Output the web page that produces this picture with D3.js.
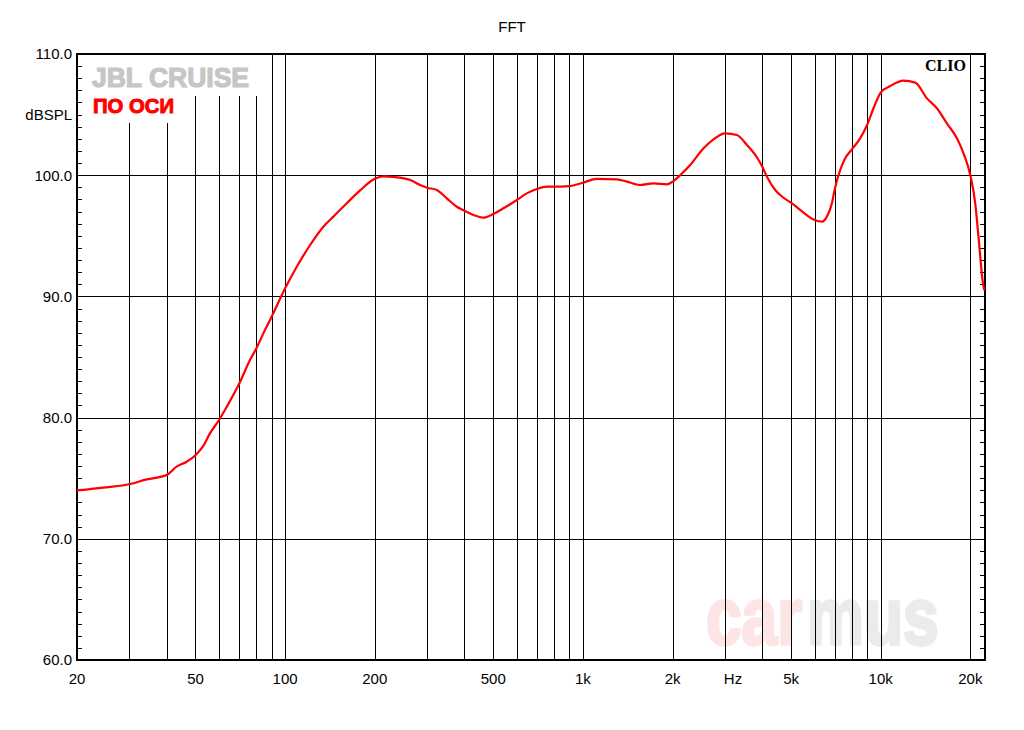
<!DOCTYPE html>
<html>
<head>
<meta charset="utf-8">
<script src="https://cdn.jsdelivr.net/npm/d3@7"></script>
<style>
  html, body { margin: 0; padding: 0; background: #fff; }
  svg { display: block; }
  text { font-family: "Liberation Sans", Arial, sans-serif; }
</style>
</head>
<body>
<svg id="chart" width="1024" height="730"></svg>
<script>
// ---- data ----
const freqs = [20, 25, 30, 34.3, 40, 43.2, 46.7, 50, 53.1, 55.9, 60, 63.7, 70, 76.2, 80, 84.5, 90,
  100, 109.4, 121.3, 134.4, 145.2, 161, 178.5, 200, 214, 231, 263, 284, 300, 323, 349, 377, 400,
  429, 461, 500, 541, 600, 648, 700, 756, 800, 900, 1000, 1114, 1300, 1405, 1557, 1725, 1914,
  2000, 2121, 2292, 2541, 2745, 3000, 3288, 3554, 3838, 4000, 4150, 4424, 4716, 5000, 5366,
  6000, 6346, 6596, 6857, 7000, 7311, 7598, 8000, 8532, 9000, 9458, 10000, 10766, 11930, 13062,
  14298, 15444, 16684, 18030, 18972, 20000, 20770, 21300, 22052, 22300];
const levels = [74.0, 74.25, 74.5, 74.9, 75.26, 75.95, 76.36, 76.9, 77.66, 78.7, 79.8, 80.9, 82.77, 84.75, 85.7, 86.95, 88.3,
  90.67, 92.45, 94.24, 95.75, 96.58, 97.68, 98.75, 99.7, 99.9, 99.85, 99.6, 99.19, 98.97, 98.78, 98.09, 97.4, 97.07,
  96.72, 96.5, 96.8, 97.27, 97.95, 98.5, 98.86, 99.05, 99.05, 99.1, 99.38, 99.69, 99.66, 99.47, 99.19, 99.33, 99.25,
  99.47, 100.0, 100.84, 102.22, 102.96, 103.45, 103.32, 102.5, 101.48, 100.71, 99.88, 98.78, 98.14, 97.73, 97.13,
  96.3, 96.17, 96.58, 97.68, 98.78, 100.43, 101.39, 102.13, 103.04, 104.14, 105.52, 106.81, 107.36, 107.8, 107.64,
  106.34, 105.52, 104.28, 103.04, 101.8, 100.0, 97.68, 94.93, 91.08, 90.5];

const xDomain = [20, 22400];
const yDomain = [60, 110];
const xGridValues = [30, 40, 50, 60, 70, 80, 90, 100, 200, 300, 400, 500, 600, 700, 800, 900,
  1000, 2000, 3000, 4000, 5000, 6000, 7000, 8000, 9000, 10000, 20000];
const xTickValues = [20, 50, 100, 200, 500, 1000, 2000, 3000, 5000, 10000, 20000];
const xTickLabels = ["20", "50", "100", "200", "500", "1k", "2k", "Hz", "5k", "10k", "20k"];
const yTickValues = [60, 70, 80, 90, 100, 110];
const yTickLabels = ["60.0", "70.0", "80.0", "90.0", "100.0", "110.0"];
const yMinorValues = d3.range(61, 110).filter(v => v % 10 !== 0);
const yUnitLabel = "dBSPL";
const yUnitAt = 105;
const titleText = "FFT";

// ---- layout ----
const L = 77, R = 985, T = 54, B = 660;
const svg = d3.select("#chart");
const x = d3.scaleLog().domain(xDomain).range([L, R]);
const y = d3.scaleLinear().domain(yDomain).range([B, T]);

svg.append("rect").attr("width", 1024).attr("height", 730).attr("fill", "#fff");

// watermark
svg.append("text").attr("transform", "translate(706,644) scale(0.8,1)")
  .attr("font-size", 80).attr("font-weight", "bold")
  .attr("fill", "#fde5e5").attr("stroke", "#fde5e5").attr("stroke-width", 3.5).attr("stroke-linejoin", "round")
  .text("car");
svg.append("text").attr("transform", "translate(807,644) scale(0.8,1)")
  .attr("font-size", 80).attr("font-weight", "bold")
  .attr("fill", "#ebebeb").attr("stroke", "#ebebeb").attr("stroke-width", 3.5).attr("stroke-linejoin", "round")
  .text("mus");

// grid
const grid = svg.append("g").attr("stroke", "#000").attr("stroke-width", 1).attr("shape-rendering", "crispEdges");
grid.selectAll("line.v").data(xGridValues).join("line")
  .attr("x1", d => Math.round(x(d)) + 0.5).attr("x2", d => Math.round(x(d)) + 0.5)
  .attr("y1", T).attr("y2", B);
grid.selectAll("line.h").data(yTickValues.filter(v => v > 60 && v < 110)).join("line")
  .attr("x1", L).attr("x2", R)
  .attr("y1", d => Math.round(y(d)) + 0.5).attr("y2", d => Math.round(y(d)) + 0.5);

// white label boxes covering grid
svg.append("rect").attr("x", L).attr("y", T).attr("width", 185).attr("height", 42).attr("fill", "#fff");
svg.append("rect").attr("x", L).attr("y", T + 42).attr("width", 103).attr("height", 27).attr("fill", "#fff");

svg.append("text").attr("x", 92).attr("y", 87).attr("font-size", 27).attr("font-weight", "bold")
  .attr("fill", "#c6c6c6").attr("stroke", "#c6c6c6").attr("stroke-width", 1.2)
  .attr("textLength", 157).attr("lengthAdjust", "spacingAndGlyphs").text("JBL CRUISE");
svg.append("text").attr("x", 93).attr("y", 113).attr("font-size", 21).attr("font-weight", "bold")
  .attr("fill", "#ff0000").attr("stroke", "#ff0000").attr("stroke-width", 1)
  .attr("textLength", 81).attr("lengthAdjust", "spacingAndGlyphs").text("ПО ОСИ");

// minor y ticks (inside, both sides)
const ticks = svg.append("g").attr("stroke", "#000").attr("stroke-width", 1).attr("shape-rendering", "crispEdges");
ticks.selectAll("line.l").data(yMinorValues).join("line")
  .attr("x1", L).attr("x2", L + 5)
  .attr("y1", d => Math.round(y(d)) + 0.5).attr("y2", d => Math.round(y(d)) + 0.5);
ticks.selectAll("line.r").data(yMinorValues).join("line")
  .attr("x1", R - 5).attr("x2", R)
  .attr("y1", d => Math.round(y(d)) + 0.5).attr("y2", d => Math.round(y(d)) + 0.5);

// frame
svg.append("rect").attr("x", L).attr("y", T).attr("width", R - L).attr("height", B - T)
  .attr("fill", "none").attr("stroke", "#000").attr("stroke-width", 2.5).attr("shape-rendering", "crispEdges");

// axis labels
svg.append("g").selectAll("text").data(yTickValues).join("text")
  .attr("x", 72).attr("y", d => y(d)).attr("dy", "0.36em").attr("text-anchor", "end")
  .attr("font-size", 15).attr("fill", "#000").text((d, i) => yTickLabels[i]);
svg.append("text").attr("x", 72).attr("y", y(yUnitAt)).attr("dy", "0.36em").attr("text-anchor", "end")
  .attr("font-size", 15).attr("fill", "#000").text(yUnitLabel);

svg.append("g").selectAll("text").data(xTickValues).join("text")
  .attr("x", d => x(d)).attr("dx", (d, i) => xTickLabels[i] === "Hz" ? 8 : 0)
  .attr("y", 684).attr("text-anchor", "middle")
  .attr("font-size", 15).attr("fill", "#000").text((d, i) => xTickLabels[i]);

svg.append("text").attr("x", 512).attr("y", 32).attr("text-anchor", "middle")
  .attr("font-size", 15).attr("fill", "#000").text(titleText);

svg.append("text").attr("x", 925).attr("y", 71).attr("font-size", 16).attr("font-weight", "bold")
  .style("font-family", "'Liberation Serif', 'DejaVu Serif', serif").attr("fill", "#000")
  .attr("textLength", 41).attr("lengthAdjust", "spacingAndGlyphs").text("CLIO");

// curve
const pts = freqs.map((f, i) => [f, levels[i]]);
const line = d3.line().x(d => x(d[0])).y(d => y(d[1])).curve(d3.curveMonotoneX);
svg.append("path").datum(pts).attr("d", line)
  .attr("fill", "none").attr("stroke", "#ff0000").attr("stroke-width", 2.2).attr("stroke-linejoin", "round");
</script>
</body>
</html>
